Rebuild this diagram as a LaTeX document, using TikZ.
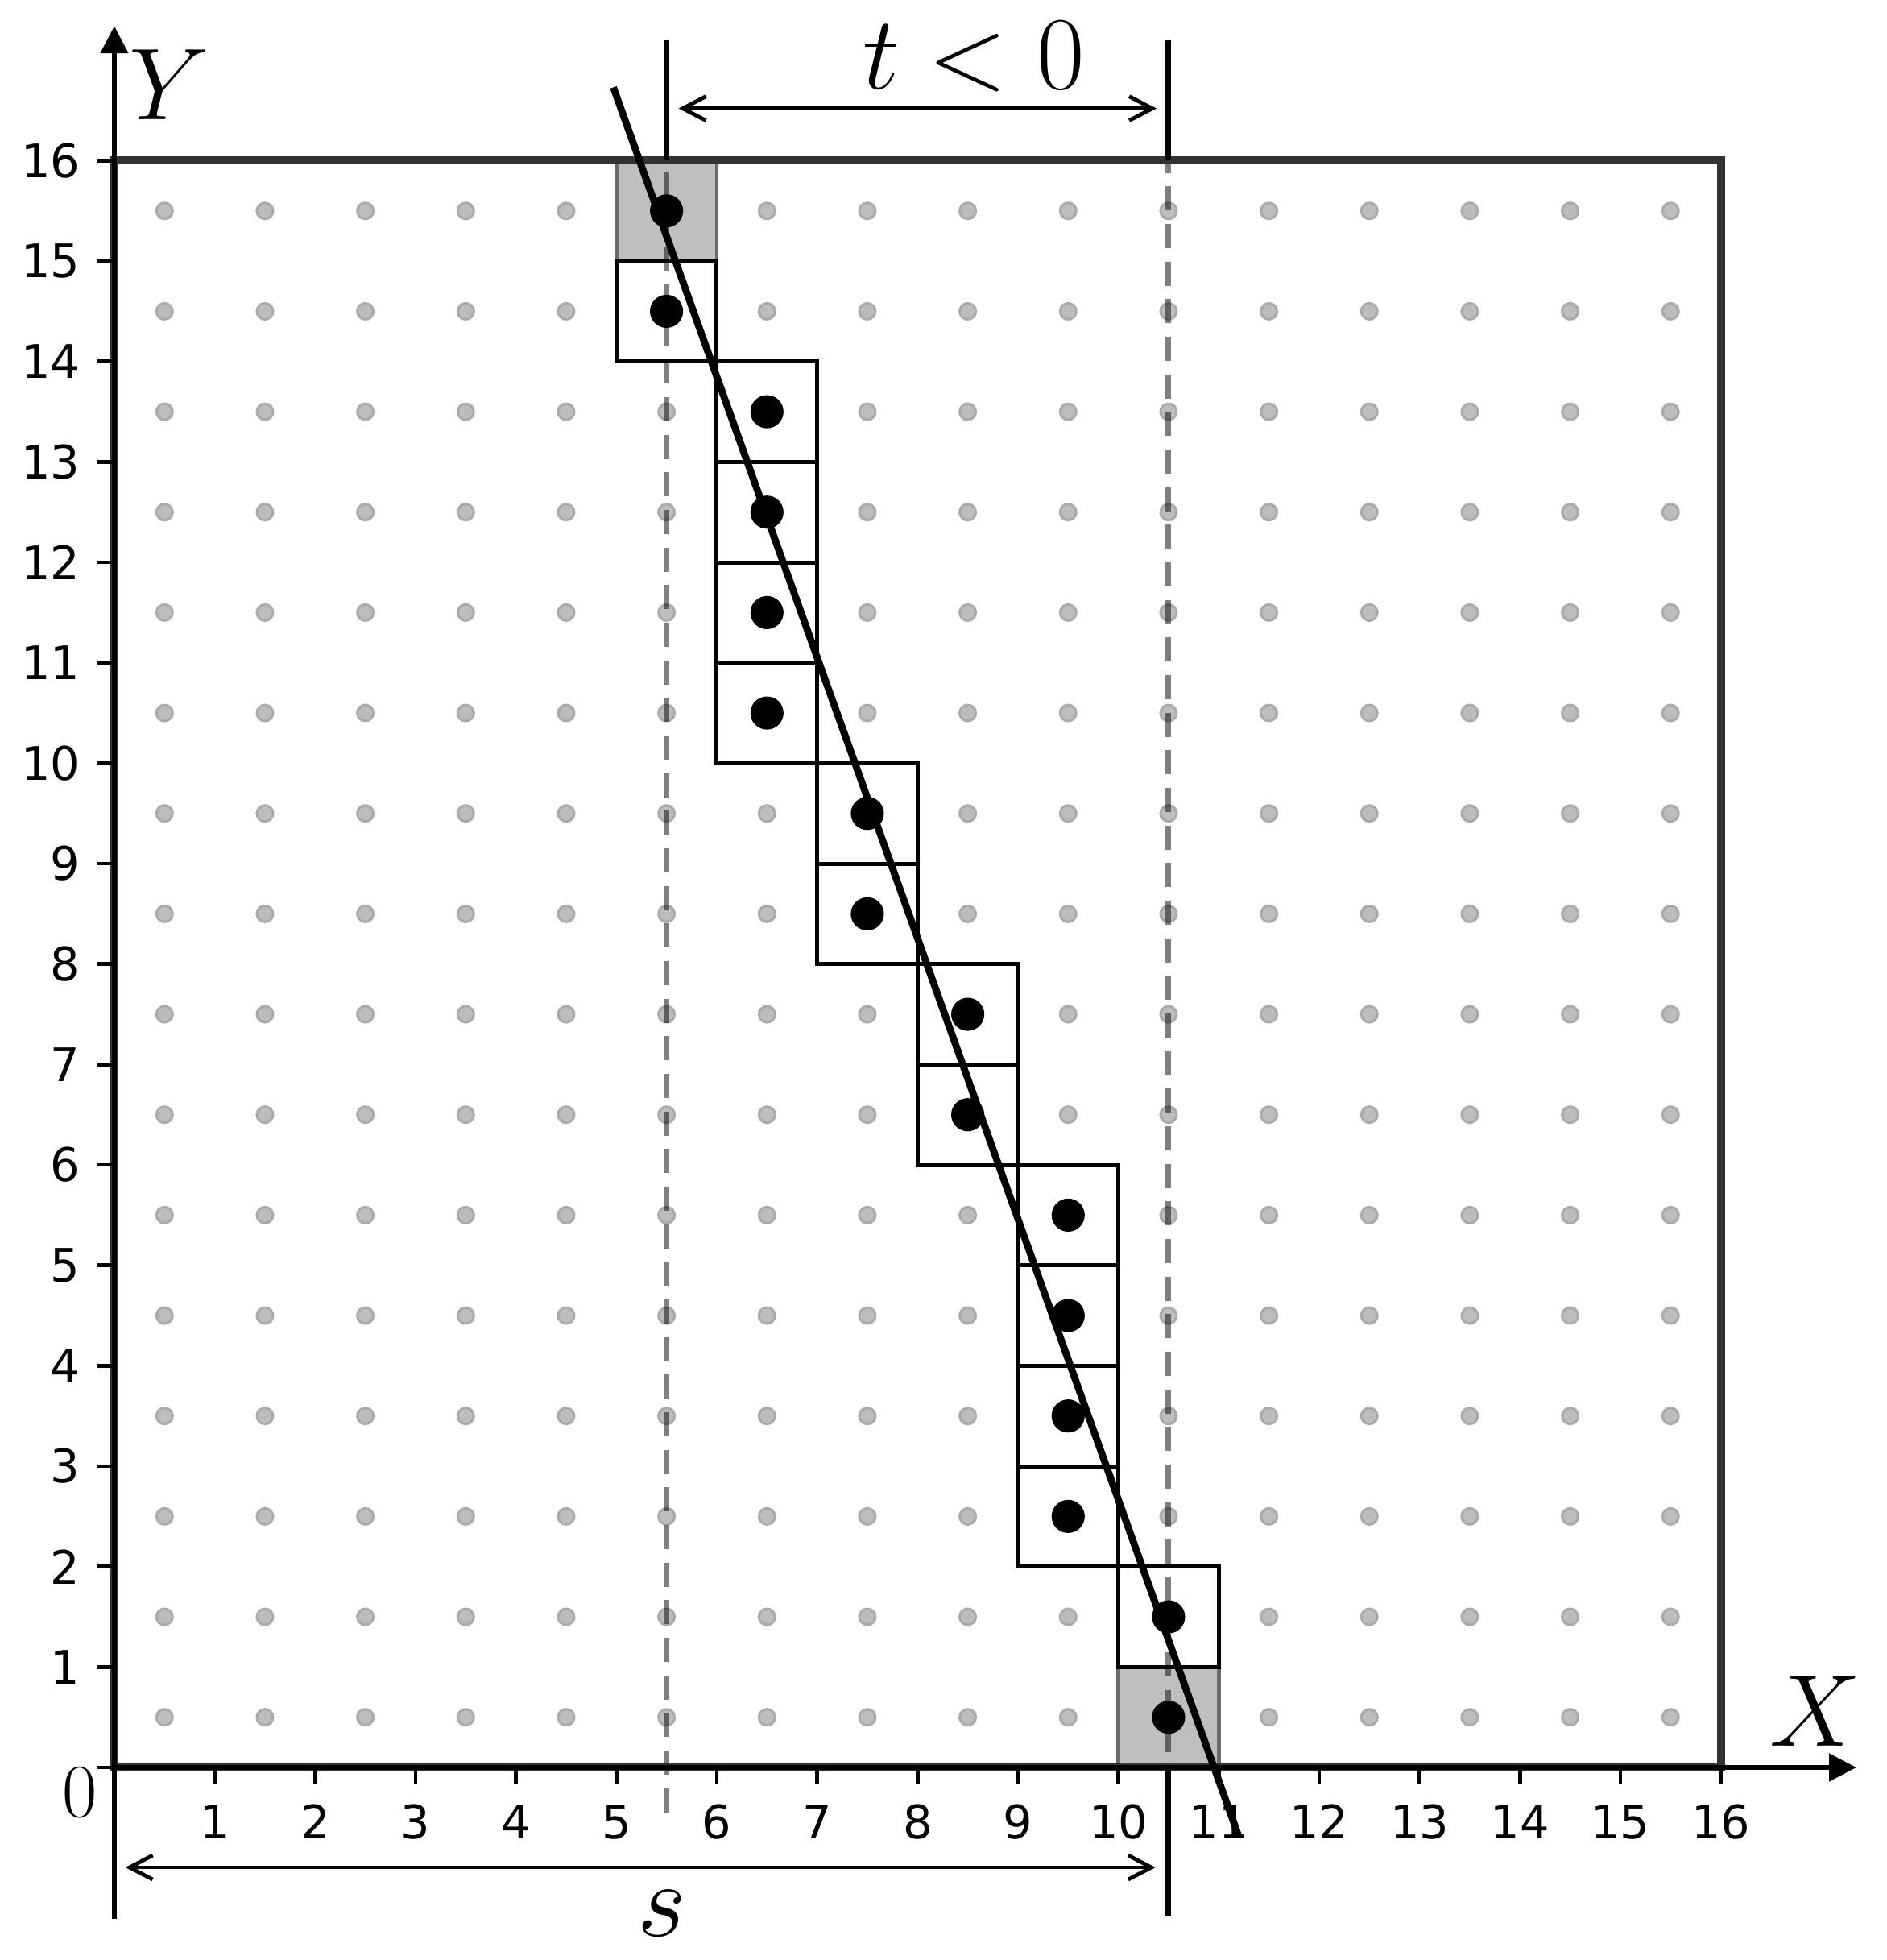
\RequirePackage{fix-cm}
\documentclass[tikz,border=0pt]{standalone}
\usepackage{fontspec}
\newfontfamily\dejavu{DejaVu Sans}
\usetikzlibrary{arrows.meta}
\definecolor{framegray}{HTML}{333333}
\definecolor{dotfill}{HTML}{BDBDBD}
\definecolor{dotedge}{HTML}{ABABAB}
\definecolor{cellgray}{HTML}{BFBFBF}
\definecolor{celledge}{HTML}{6B6B6B}
\begin{document}
\begin{tikzpicture}[
  griddot/.style={fill=dotfill,draw=dotedge,line width=0.7pt},
  hitdot/.style={fill=black},
  cellbox/.style={draw=black,line width=1.15pt},
  graycell/.style={fill=cellgray,draw=celledge,line width=1.1pt},
  guide/.style={draw=black,opacity=0.5,line width=1.6pt,dash pattern=on 6.85pt off 3.8pt},
  framebox/.style={draw=framegray,line width=2.3pt},
  axisline/.style={draw=black,line width=1.2pt,-{Triangle[length=0.27cm,width=0.27cm]}},
  tickline/.style={draw=black,line width=1.05pt},
  marker/.style={draw=black,line width=1.6pt},
  mainline/.style={draw=black,line width=2pt},
  span/.style={draw=black,line width=1.1pt,{Straight Barb[length=0.23cm,width=0.24cm,line join=miter]}-{Straight Barb[length=0.23cm,width=0.24cm,line join=miter]}},
  ticklab/.style={font=\dejavu\fontsize{13.1}{15}\selectfont,inner sep=0pt},
  mathlab/.style={inner sep=0pt,font=\fontsize{29}{32}\selectfont}
]
\useasboundingbox (-1.139,-1.917) rectangle (17.65,17.60);

% grid dots
\foreach \i in {0,...,15}
  \foreach \j in {0,...,15}
    \draw[griddot] (\i+0.5,\j+0.5) circle[radius=0.08];

% gray end cells
\draw[graycell] (5,15) rectangle (6,16);
\draw[graycell] (10,0) rectangle (11,1);

% dashed guides
\coordinate (gA1) at (5.5,15.89);
\coordinate (gA2) at (5.5,-0.505);
\coordinate (gB1) at (10.5,16.118);
\coordinate (gB2) at (10.5,0);
\draw[guide] (gA1) -- (gA2);
\draw[guide] (gB1) -- (gB2);

% outlined cells
\foreach \cx/\cy in {5/14,6/13,6/12,6/11,6/10,7/9,7/8,8/7,8/6,9/5,9/4,9/3,9/2,10/1}
  \draw[cellbox] (\cx,\cy) rectangle (\cx+1,\cy+1);

% frame
\draw[framebox] (0,0) rectangle (16,16);

% axes
\coordinate (O) at (0,0);
\coordinate (Ybot) at (0,-1.506);
\coordinate (Ytop) at (0,17.34);
\coordinate (Xend) at (17.35,0);
\draw[axisline] (Ybot) -- (Ytop);
\draw[axisline] (O) -- (Xend);

% ticks
\foreach \k in {0,...,16} {
  \draw[tickline] (\k,0) -- (\k,-0.172);
  \draw[tickline] (0,\k) -- (-0.172,\k);
}
\foreach \k in {1,...,16} {
  \node[ticklab,anchor=base] (xl\k) at (\k,-0.71) {\k};
  \node[ticklab,anchor=east] (yl\k) at (-0.335,\k) {\k};
}

% hit dots
\foreach \cx/\cy in {5/15,5/14,6/13,6/12,6/11,6/10,7/9,7/8,8/7,8/6,9/5,9/4,9/3,9/2,10/1,10/0}
  \fill[hitdot] (\cx+0.5,\cy+0.5) circle[radius=0.165];

% main line
\coordinate (L1) at (4.97,16.73);
\coordinate (L2) at (11.2,-0.69);
\draw[mainline] (L1) -- (L2);

% solid markers
\coordinate (mA1) at (5.5,16);
\coordinate (mA2) at (5.5,17.2);
\coordinate (mB1) at (10.5,16);
\coordinate (mB2) at (10.5,17.2);
\coordinate (mC1) at (10.5,0);
\coordinate (mC2) at (10.5,-1.476);
\draw[marker] (mA1) -- (mA2);
\draw[marker] (mB1) -- (mB2);
\draw[marker] (mC1) -- (mC2);

% span arrows
\coordinate (tA) at (5.62,16.52);
\coordinate (tB) at (10.38,16.52);
\coordinate (sA) at (0.11,-0.995);
\coordinate (sB) at (10.37,-0.995);
\draw[span] (tA) -- (tB);
\draw[span] (sA) -- (sB);

% labels
\node[mathlab,anchor=base west] (ylab) at (0.14,16.41) {$Y$};
\node[mathlab,anchor=base west] (xlab) at (16.48,0.21) {$X$};
\node[mathlab,anchor=base,font=\fontsize{29.5}{32}\selectfont] (tlab) at (8.56,16.71) {$t<0$};
\node[mathlab,anchor=base,font=\fontsize{30}{32}\selectfont] (slab) at (5.45,-1.677) {$s$};
\node[mathlab,anchor=base,font=\fontsize{21.5}{24}\selectfont] (zlab) at (-0.345,-0.49) {$0$};
\end{tikzpicture}
\end{document}
